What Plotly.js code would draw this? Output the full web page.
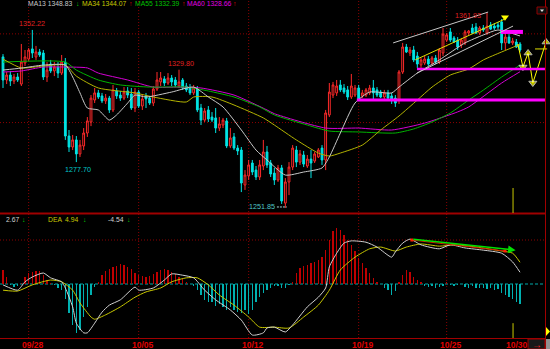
<!DOCTYPE html>
<html><head><meta charset="utf-8">
<script src="https://cdn.plot.ly/plotly-3.0.1.min.js"></script>
<style>html,body{margin:0;padding:0;background:#000;}#chart{width:550px;height:349px;}</style>
</head><body><div id="chart"></div>
<script>
// ---------- DATA (4-hour candles) ----------
const openP=[1337.0,1324.0,1326.8,1323.4,1325.7,1321.7,1333.6,1335.8,1341.5,1337.0,
1339.8,1339.2,1325.7,1333.0,1329.1,1331.3,1327.9,1334.1,1292.4,1286.2,
1290.2,1282.3,1286.8,1294.1,1300.3,1312.7,1316.7,1315.0,1312.2,1313.8,
1307.1,1317.8,1315.5,1313.8,1317.8,1316.1,1308.2,1317.2,1309.3,1315.0,
1313.8,1311.0,1318.9,1322.9,1324.6,1322.3,1325.1,1324.0,1320.6,1324.0,
1320.6,1319.5,1316.7,1318.9,1308.2,1301.4,1307.1,1303.1,1302.6,1296.9,
1298.6,1300.9,1286.8,1291.9,1285.6,1284.5,1264.8,1269.9,1277.2,1273.2,
1269.3,1275.5,1283.4,1277.2,1271.5,1267.6,1274.4,1254.6,1266.5,1274.9,
1284.5,1277.7,1281.7,1275.5,1279.4,1278.3,1280.6,1285.6,1278.9,1304.3,
1315.5,1316.7,1321.2,1319.5,1318.4,1314.4,1315.5,1319.5,1315.0,1315.5,
1316.7,1319.5,1318.4,1317.2,1314.4,1316.7,1315.0,1313.8,1312.7,1328.5,
1342.6,1339.2,1340.9,1337.5,1332.5,1333.6,1335.8,1333.6,1336.4,1334.1,
1339.2,1346.5,1351.1,1347.7,1346.5,1343.7,1344.9,1350.5,1353.3,1353.9,
1350.5,1353.3,1350.5,1355.0,1354.4,1355.0,1356.7,1344.9,1348.2,1344.9,
1345.4,1344.3];
const highP=[1338.6,1328.5,1329.1,1327.4,1327.9,1344.3,1340.9,1342.0,1352.22,1343.2,
1341.5,1340.9,1334.1,1335.3,1334.1,1334.1,1338.1,1336.4,1295.8,1293.0,
1292.4,1290.2,1296.9,1303.1,1315.5,1319.5,1318.4,1316.7,1316.1,1315.0,
1321.2,1319.5,1317.8,1320.0,1320.0,1319.5,1319.5,1318.4,1315.5,1316.7,
1315.0,1320.6,1328.5,1328.5,1326.2,1327.9,1326.8,1325.7,1329.80,1325.1,
1322.3,1321.7,1321.2,1320.6,1310.5,1308.2,1309.3,1305.9,1308.2,1303.1,
1302.6,1302.6,1296.9,1294.1,1287.3,1286.2,1273.2,1278.9,1278.9,1275.5,
1278.9,1290.2,1286.8,1278.9,1274.4,1276.1,1276.1,1268.7,1277.7,1287.3,
1286.8,1284.5,1284.0,1281.7,1284.5,1283.4,1285.6,1287.3,1307.1,1322.3,
1322.9,1324.0,1324.0,1321.7,1320.6,1327.4,1321.2,1321.2,1318.4,1319.5,
1321.2,1324.0,1320.0,1318.4,1318.4,1318.4,1316.7,1315.5,1329.6,1344.9,
1344.3,1342.6,1343.2,1339.8,1336.4,1337.5,1337.5,1337.5,1338.1,1342.0,
1353.3,1350.5,1353.3,1348.8,1348.2,1347.7,1352.2,1352.2,1355.6,1356.1,
1354.4,1355.0,1361.93,1356.7,1356.1,1356.7,1358.4,1350.5,1349.9,1347.7,
1347.1,1345.4];
const lowP=[1319.5,1321.7,1320.6,1321.7,1322.9,1320.6,1331.9,1334.7,1336.4,1335.3,
1337.0,1324.0,1322.9,1327.9,1326.2,1325.1,1326.8,1290.2,1283.4,1284.5,
1277.70,1280.6,1284.5,1291.9,1298.0,1311.0,1313.3,1311.0,1310.5,1305.4,
1305.9,1313.3,1312.2,1312.7,1313.8,1307.1,1305.9,1308.2,1307.1,1308.2,
1309.9,1309.3,1317.8,1320.6,1320.6,1321.2,1320.6,1320.0,1319.5,1318.4,
1317.2,1315.5,1315.5,1305.9,1298.6,1300.3,1300.3,1300.3,1294.1,1295.2,
1296.9,1285.6,1285.6,1284.5,1281.7,1260.8,1262.0,1267.6,1270.4,1267.6,
1267.6,1273.2,1274.4,1269.3,1264.8,1266.5,1254.1,1251.85,1259.1,1273.2,
1274.9,1276.1,1274.9,1274.4,1268.7,1277.2,1280.0,1276.1,1273.2,1303.1,
1313.8,1315.0,1317.2,1316.1,1312.7,1313.3,1314.4,1312.2,1313.8,1314.4,
1315.5,1312.7,1314.4,1313.8,1313.3,1312.7,1310.5,1308.8,1310.5,1327.4,
1339.2,1337.5,1334.1,1330.8,1330.8,1332.5,1331.9,1332.5,1333.0,1333.0,
1337.5,1345.4,1345.4,1344.9,1340.9,1342.0,1343.7,1349.4,1349.9,1349.9,
1349.4,1351.1,1349.4,1352.2,1352.2,1352.7,1340.9,1340.9,1344.3,1343.7,
1342.0,1339.8];
const closeP=[1324.0,1326.8,1323.4,1325.7,1324.0,1334.1,1337.0,1340.9,1339.2,1339.8,
1338.1,1325.7,1329.6,1329.1,1331.3,1327.9,1334.1,1292.4,1286.2,1290.2,
1282.3,1287.3,1294.1,1300.9,1313.8,1316.7,1314.4,1312.2,1313.8,1307.1,
1318.4,1315.0,1313.8,1317.2,1315.5,1308.2,1317.2,1309.3,1313.3,1313.3,
1311.0,1318.9,1324.0,1325.1,1322.3,1325.1,1322.9,1321.2,1322.9,1319.5,
1318.4,1316.7,1319.5,1307.1,1301.4,1306.5,1302.0,1301.4,1296.9,1299.2,
1301.4,1286.8,1291.3,1285.6,1284.0,1265.9,1270.4,1276.1,1272.1,1269.3,
1276.1,1283.4,1276.1,1271.0,1267.6,1274.4,1255.8,1266.5,1274.9,1285.6,
1277.7,1282.3,1276.6,1279.4,1277.2,1282.3,1284.5,1278.9,1305.4,1317.2,
1321.2,1320.6,1318.4,1317.2,1314.4,1320.6,1319.5,1312.7,1316.7,1318.4,
1319.5,1316.7,1315.5,1314.4,1316.7,1313.8,1312.7,1311.0,1328.5,1342.6,
1339.8,1340.9,1335.3,1333.0,1335.3,1335.8,1333.0,1336.4,1334.1,1340.9,
1349.9,1349.4,1346.5,1345.4,1342.6,1346.5,1351.1,1351.6,1350.5,1350.5,
1353.3,1352.2,1354.4,1352.7,1353.3,1353.9,1344.9,1348.2,1344.9,1346.0,
1342.6,1340.9];

// moving averages, read at sample candles
const ma13Idx=[0,5,11,17,19,21,23,26,29,31,34,36,39,46,52,56,60,65,69,72,77,82,87,89,92,96,100,106,108,113,119,126,131,135,141];
const ma13Val=[1329.6,1330.7,1332.4,1332.4,1325.7,1316.7,1308.2,1307.1,1301.4,1304.3,1311.0,1315.5,1314.4,1317.2,1320.0,1314.4,1308.8,1295.8,1284.5,1278.9,1270.4,1272.1,1274.4,1280.6,1294.1,1311.0,1317.2,1316.7,1320.0,1327.9,1335.3,1344.9,1349.4,1352.2,1348.83];
const ma34Idx=[0,5,11,17,20,26,36,41,50,52,57,63,71,74,80,86,89,92,98,103,108,113,117,122,127,131,136,141];
const ma34Val=[1335.8,1330.8,1331.9,1332.4,1326.2,1319.5,1316.7,1314.4,1311.6,1314.4,1314.4,1309.9,1302.6,1298.6,1290.2,1282.8,1281.1,1282.8,1287.3,1295.8,1303.7,1312.7,1320.0,1326.8,1330.2,1335.3,1339.8,1344.07];
const ma55Idx=[0,17,20,26,32,40,50,56,63,70,74,83,89,97,107,112,117,122,127,131,136,141];
const ma55Val=[1334.1,1334.1,1329.6,1324.0,1321.2,1320.0,1320.0,1317.8,1314.4,1308.8,1304.3,1298.6,1295.2,1294.7,1294.1,1296.4,1300.3,1305.4,1312.7,1318.3,1325.7,1332.39];
const ma60Idx=[0,5,11,17,23,26,34,41,48,54,63,72,74,88,97,106,115,124,127,136,141];
const ma60Val=[1328.5,1329.1,1331.3,1331.3,1330.8,1327.9,1324.0,1320.0,1320.0,1319.5,1315.5,1307.1,1305.0,1296.9,1296.9,1295.8,1299.7,1306.0,1308.8,1322.3,1328.66];

// MACD
const macdHist=[3.2,1.7,-0.2,-0.6,-0.5,0.3,1.7,2.6,2.8,3.0,
3.0,2.0,0.9,0.3,-0.2,-1.0,-1.4,-3.3,-6.7,-9.3,
-11.1,-10.5,-7.5,-5.2,-2.5,-0.6,0.5,2.0,3.0,3.3,
3.8,4.1,4.5,4.3,3.9,3.3,2.6,2.0,1.8,1.7,
1.8,2.3,2.8,3.2,3.3,3.2,2.8,2.3,1.7,1.1,
0.5,0.1,-0.5,-1.4,-2.5,-3.6,-4.2,-4.0,-5.0,-4.5,
-5.2,-5.8,-5.3,-5.9,-6.3,-6.7,-5.8,-6.8,-5.9,-4.0,
-3.0,-2.1,-1.4,-0.8,-0.5,-0.5,-1.0,-0.8,-0.2,0.5,
2.4,3.6,4.1,4.3,4.7,5.1,5.5,6.2,7.8,10.1,
12.0,12.8,12.2,11.2,10.1,8.9,7.4,5.9,4.7,3.6,
2.4,1.3,0.5,0.1,-0.8,-1.4,-2.5,-1.7,0.5,2.0,
3.2,2.8,1.7,0.9,0.5,-0.5,-0.6,-0.5,-1.0,-0.6,
-0.5,0.4,-0.2,-0.5,-0.2,0.1,-0.6,-0.8,-0.5,-0.8,
-1.0,-0.8,-1.2,-1.0,-1.4,-1.2,-2.1,-2.5,-3.0,-3.5,
-4.0,-4.54];
const difIdx=[0,4,6,8,11,13,16,17,19,20,22,23,25,27,29,32,36,37,41,44,46,49,52,55,58,62,65,68,71,72,74,77,79,83,86,88,89,91,93,95,99,102,106,107,109,111,114,119,122,126,131,136,139,141];
const difVal=[-0.2,-1.4,0.5,1.6,2.5,1.4,0.5,-0.9,-5.2,-8.9,-11.1,-11.1,-8.9,-6.4,-4.8,-3.6,-0.7,-1.4,-0.9,0.9,2.3,2.0,1.4,-1.4,-3.6,-5.9,-8.2,-11.6,-11.1,-10.0,-9.8,-10.9,-9.3,-5.2,-3.0,-0.9,3.9,7.0,9.3,9.8,9.5,8.4,6.1,7.3,9.3,10.2,8.9,8.0,8.9,8.2,7.7,7.0,5.0,2.67];
const deaIdx=[0,4,8,13,16,19,21,24,25,28,32,36,39,43,46,50,53,56,59,63,67,70,74,78,82,86,89,92,96,100,103,107,110,114,119,123,129,136,139,141];
const deaVal=[-1.4,-1.6,-0.2,0.9,0.5,-1.4,-4.3,-7.5,-8.0,-7.0,-5.2,-3.0,-1.8,-0.9,0.5,1.4,1.4,-0.2,-2.5,-4.8,-7.5,-9.8,-9.8,-10.0,-7.5,-4.8,-1.4,3.2,6.1,8.0,8.4,7.5,8.4,9.1,8.6,8.9,8.4,7.5,7.0,4.94];

const dateTickIdx=[7,37,67,97,121,139];
const dateTickText=['09/28','10/05','10/12','10/19','10/25','10/30'];

// ---------- LAYOUT HELPERS ----------
const W=550,H=349;
const px=x=>x/W, py=y=>1-y/H;
const idx=openP.map((_,i)=>i);
const RED='#ff2a2a', CYAN='#00e4e4', GRID='#8c0000', FRAME='#a00000';
const FONT='Arial, Liberation Sans, sans-serif';

const traces=[
 {type:'candlestick',x:idx,open:openP,high:highP,low:lowP,close:closeP,xaxis:'x',yaxis:'y',
  increasing:{line:{color:RED,width:1},fillcolor:'#000000'},
  decreasing:{line:{color:CYAN,width:1},fillcolor:CYAN},whiskerwidth:0,hoverinfo:'none'},
 {type:'scatter',mode:'lines',x:ma60Idx,y:ma60Val,line:{color:'#d400d4',width:1,shape:'spline',smoothing:0.6},yaxis:'y'},
 {type:'scatter',mode:'lines',x:ma55Idx,y:ma55Val,line:{color:'#00b400',width:1,shape:'spline',smoothing:0.6},yaxis:'y'},
 {type:'scatter',mode:'lines',x:ma34Idx,y:ma34Val,line:{color:'#b4b400',width:1,shape:'spline',smoothing:0.6},yaxis:'y'},
 {type:'scatter',mode:'lines',x:ma13Idx,y:ma13Val,line:{color:'#c8c8c8',width:1,shape:'spline',smoothing:0.6},yaxis:'y'},
 {type:'bar',x:idx,y:macdHist,yaxis:'y2',width:0.3,
  marker:{color:macdHist.map(v=>v>=0?'#c00000':'#00b0b0'),line:{width:0}}},
 {type:'scatter',mode:'lines',x:deaIdx,y:deaVal,yaxis:'y2',line:{color:'#c8c800',width:1,shape:'spline',smoothing:0.6}},
 {type:'scatter',mode:'lines',x:difIdx,y:difVal,yaxis:'y2',line:{color:'#d0d0d0',width:1,shape:'spline',smoothing:0.6}},
 // hand-drawn projection zigzag (drawing object)
 {type:'scatter',mode:'lines+markers',x:[140.4,141.8,143.2,144.5,148.1],y:[1344.3,1331.3,1339.2,1322.3,1345.4],yaxis:'y',
  line:{color:'#ffff00',width:1},marker:{color:'#ffff00',size:[0,7,7,7,7],symbol:['circle','triangle-down','triangle-up','triangle-down','triangle-up']}},
 {type:'scatter',mode:'markers',x:[136.9],y:[1359.4],yaxis:'y',marker:{color:'#ffff00',size:7,symbol:'triangle-down'}},
 // MACD trend line (drawing object)
 {type:'scatter',mode:'lines+markers',x:[111.5,136.9],y:[10.0,7.5],yaxis:'y2',line:{color:'#d02000',width:1},marker:{color:'#ff2000',size:3,symbol:'square'}}
];

const shapes=[];
const dot='1px,2px';
[1350,1300].forEach(v=>shapes.push({type:'line',xref:'paper',yref:'y',x0:0,x1:px(545),y0:v,y1:v,layer:'below',line:{color:GRID,width:1,dash:dot}}));
shapes.push({type:'line',xref:'paper',yref:'y2',x0:0,x1:px(545),y0:10,y1:10,layer:'below',line:{color:GRID,width:1,dash:dot}});
shapes.push({type:'line',xref:'paper',yref:'y2',x0:0,x1:px(545),y0:0,y1:0,layer:'below',line:{color:'#00a8a8',width:1,dash:'3px,2px'}});
dateTickIdx.slice(0,5).forEach(v=>shapes.push({type:'line',xref:'x',yref:'paper',x0:v,x1:v,y0:py(338),y1:1,layer:'below',line:{color:GRID,width:1,dash:dot}}));
// frames
shapes.push({type:'line',xref:'paper',yref:'paper',x0:0,x1:px(545),y0:py(213.5),y1:py(213.5),line:{color:FRAME,width:2}});
shapes.push({type:'line',xref:'paper',yref:'paper',x0:0,x1:px(545),y0:py(338.5),y1:py(338.5),line:{color:FRAME,width:1}});
shapes.push({type:'line',xref:'paper',yref:'paper',x0:px(545.5),x1:px(545.5),y0:0,y1:1,line:{color:FRAME,width:1}});
// cursor line at 10/30
shapes.push({type:'line',xref:'x',yref:'y',x0:139.1,x1:139.1,y0:1263.1,y1:1249,line:{color:'#c8c800',width:1}});
shapes.push({type:'line',xref:'x',yref:'y2',x0:139.1,x1:139.1,y0:-8.9,y1:-12.3,line:{color:'#c8c800',width:1}});
// drawn support lines
shapes.push({type:'line',xref:'x',yref:'y',x0:96.5,x1:147.8,y0:1312.7,y1:1312.7,line:{color:'#ff00ff',width:3}});
shapes.push({type:'line',xref:'x',yref:'y',x0:112.9,x1:147.8,y0:1330.2,y1:1330.2,line:{color:'#ff00ff',width:2.5}});
shapes.push({type:'line',xref:'x',yref:'y',x0:135.8,x1:141.8,y0:1351.1,y1:1351.1,line:{color:'#ff00ff',width:4}});
// channel lines
shapes.push({type:'line',xref:'x',yref:'y',x0:106.4,x1:132.3,y0:1344.9,y1:1362.3,line:{color:'#c8c8c8',width:1}});
shapes.push({type:'line',xref:'x',yref:'y',x0:112.9,x1:139.1,y0:1327.9,y1:1354.4,line:{color:'#c8c8c8',width:1}});
shapes.push({type:'line',xref:'x',yref:'y',x0:112.4,x1:136.9,y0:1335.3,y1:1358.4,line:{color:'#e0e000',width:1}});
shapes.push({type:'line',xref:'x',yref:'y',x0:145.1,x1:148.4,y0:1341.5,y1:1341.5,line:{color:'#e0e000',width:1}});
// low marker dashes
shapes.push({type:'line',xref:'x',yref:'y',x0:74.7,x1:77.4,y0:1252.4,y1:1252.4,line:{color:'#a0d8d8',width:1,dash:'2px,1px'}});
// small boxes on the right
shapes.push({type:'rect',xref:'paper',yref:'paper',x0:px(537),x1:px(547),y0:py(14),y1:py(7),line:{color:'#900000',width:1},fillcolor:'#101010'});
shapes.push({type:'path',xref:'paper',yref:'paper',path:`M ${px(540)} ${py(9.5)} L ${px(544)} ${py(9.5)} L ${px(542)} ${py(12)} Z`,fillcolor:'#e0e0e0',line:{width:0}});
shapes.push({type:'rect',xref:'paper',yref:'paper',x0:px(528),x1:px(545),y0:py(349),y1:py(339),line:{color:'#a00000',width:1},fillcolor:'#181818'});
shapes.push({type:'rect',xref:'paper',yref:'paper',x0:px(546),x1:px(550),y0:py(349),y1:py(339),line:{width:0},fillcolor:'#909090'});
shapes.push({type:'path',xref:'paper',yref:'paper',path:`M ${px(546)} ${py(327)} L ${px(550)} ${py(331.5)} L ${px(546)} ${py(336)} Z`,fillcolor:'#ffff00',line:{width:0}});

const ann=[];
function pt(x,y,text,color,anchor,size){ann.push({xref:'paper',yref:'paper',x:px(x),y:py(y),text,showarrow:false,xanchor:anchor||'left',yanchor:'middle',font:{family:FONT,size:size||6.8,color},borderpad:0});}
pt(27,3.5,'MA13 1348.83','#c8c8c8'); pt(74.5,3.5,'↓','#00c800');
pt(80.5,3.5,'MA34 1344.07','#c8c800'); pt(128,3.5,'↑','#e00000');
pt(133.5,3.5,'MA55 1332.39','#00c000'); pt(181,3.5,'↑','#e00000');
pt(185.5,3.5,'MA60 1328.66','#e000e0'); pt(231.5,3.5,'↑','#e00000');
pt(5,219,'2.67','#d0d0d0'); pt(21,219,'↓','#00c800');
pt(47,219,'DEA','#c8c800'); pt(64,219,'4.94','#c8c800'); pt(82,219,'↓','#00c800');
pt(107,219,'-4.54','#d0d0d0'); pt(126,219,'↓','#00c800');
pt(537,344,'→','#ff2020','center',10);
function dl(x,y,text,color,xa,ya,ys){ann.push({xref:'x',yref:'y',x,y,text,showarrow:false,xanchor:xa,yanchor:ya,yshift:ys||0,font:{family:FONT,size:7.2,color},borderpad:0});}
dl(8,1352.22,'1352.22','#e02020','center','bottom',1);
dl(48.5,1329.80,'1329.80','#e02020','center','bottom',1);
dl(20.5,1277.70,'1277.70','#00c8c8','center','top',-2);
dl(74.5,1252.4,'1251.85','#50c8c8','right','middle',0);
dl(130.5,1360.6,'1361.93','#e02020','right','middle',0);
// MACD arrow line
ann.push({xref:'x',yref:'y2',axref:'x',ayref:'y2',x:139.8,y:7.7,ax:111.5,ay:10.2,text:'',showarrow:true,arrowhead:2,arrowsize:1,arrowwidth:1.5,arrowcolor:'#00e000'});

const layout={
 width:W,height:H,margin:{l:0,r:0,t:0,b:0},paper_bgcolor:'#000',plot_bgcolor:'#000',
 showlegend:false,hovermode:false,bargap:0,
 xaxis:{range:[-0.818,149.18],anchor:'y2',rangeslider:{visible:false},showgrid:false,zeroline:false,showline:false,
  tickvals:dateTickIdx,ticktext:dateTickText,ticks:'',ticklabelshift:4,
  tickfont:{family:FONT,size:8.5,color:'#e00000',weight:'bold'}},
 yaxis:{domain:[py(213),1],range:[1249.0,1369.1],showgrid:false,zeroline:false,showticklabels:false,ticks:''},
 yaxis2:{domain:[py(338),py(214)],range:[-12.27,15.91],showgrid:false,zeroline:false,showticklabels:false,ticks:''},
 shapes,annotations:ann
};
Plotly.newPlot('chart',traces,layout,{staticPlot:true,displayModeBar:false});
</script></body></html>
